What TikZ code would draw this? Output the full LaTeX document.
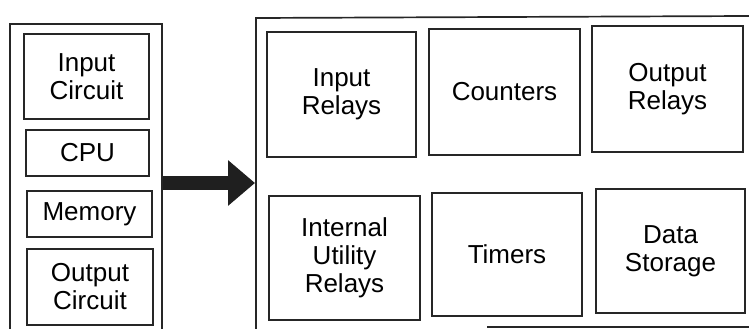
\documentclass[tikz,border=0pt]{standalone}
\usepackage{fontspec}
\setmainfont{Liberation Sans}
\usetikzlibrary{arrows.meta}
\begin{document}
\begin{tikzpicture}[x=1pt,y=-1pt,
  box/.style={draw=black!85,line width=1.6pt,inner sep=0pt,align=center,
    font=\fontsize{26}{28}\selectfont},
  frame/.style={draw=black!85,line width=1.7pt}]
\useasboundingbox (0,0) rectangle (749,329);
% left container (PLC)
\draw[frame] (10,329) -- (10,24) -- (162,24) -- (162,329);
\node[box,minimum width=125pt,minimum height=85pt] (inc) at (86.5,76.5) {Input\\Circuit};
\node[box,minimum width=123pt,minimum height=46pt] (cpu) at (87.5,153) {CPU};
\node[box,minimum width=125pt,minimum height=46pt] (mem) at (89.5,214) {Memory};
\node[box,minimum width=126pt,minimum height=76pt] (outc) at (90,287) {Output\\Circuit};
% right container
\draw[frame] (749,16) -- (256,18) -- (256,329);
\draw[frame] (487,327) -- (749,327);
\node[box,minimum width=149pt,minimum height=125pt] (ir) at (341.5,94.5) {Input\\Relays};
\node[box,minimum width=151pt,minimum height=126pt] (cnt) at (504.5,92) {Counters};
\node[box,minimum width=151pt,minimum height=126pt] (or) at (667.5,89) {Output\\Relays};
\node[box,minimum width=151pt,minimum height=124pt] (iur) at (344.5,258) {Internal\\Utility\\Relays};
\node[box,minimum width=150pt,minimum height=123pt] (tim) at (507,254.5) {Timers};
\node[box,minimum width=149pt,minimum height=124pt] (ds) at (670.5,251) {Data\\Storage};
% arrow
\coordinate (aS) at (163,183);
\coordinate (aE) at (255,183);
\draw[line width=14pt,draw=black!88,
  -{Triangle[length=27pt,width=44pt]}] (aS) -- (aE);
\end{tikzpicture}
\end{document}
